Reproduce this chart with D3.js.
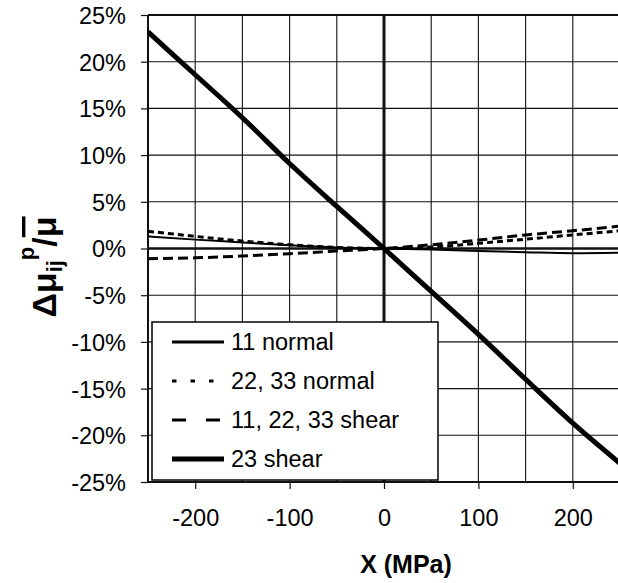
<!DOCTYPE html>
<html>
<head>
<meta charset="utf-8">
<script src="https://cdn.jsdelivr.net/npm/d3@7/dist/d3.min.js"></script>
<style>
  body { margin: 0; background: #fff; }
  text { font-family: "Liberation Sans", Arial, sans-serif; fill: #000; }
</style>
</head>
<body>
<div id="chart"></div>
<script>
// stress values (MPa)
const stress = [-250, -200, -150, -100, -50, 0, 50, 100, 150, 200, 250];

// change in plastic shear modulus, percent
const normal11   = [1.3, 0.95, 0.65, 0.35, 0.12, 0, -0.12, -0.28, -0.4, -0.5, -0.45];
const normal2233 = [1.85, 1.3, 0.8, 0.4, 0.12, 0, 0.15, 0.55, 1.0, 1.45, 1.9];
const shear112233 = [-1.1, -1.0, -0.8, -0.55, -0.28, 0, 0.4, 0.9, 1.45, 1.9, 2.4];
const shear23    = [23.2, 18.6, 14.0, 9.1, 4.5, 0, -4.6, -9.2, -14.0, -18.7, -23.0];

const seriesNames = ["11 normal", "22, 33 normal", "11, 22, 33 shear", "23 shear"];
const seriesValues = [normal11, normal2233, shear112233, shear23];

const xTicks = [-200, -100, 0, 100, 200];
const xGrid = [-250, -200, -150, -100, -50, 0, 50, 100, 150, 200, 250];
const yTicks = [-25, -20, -15, -10, -5, 0, 5, 10, 15, 20, 25];

// line styles per series
const lineWidth = [2, 3, 3, 5];
const plotDash = [null, "6,4", "10,5", null];
const legendDash = [null, "4.5,14", "14,20", null];

var width = 618, height = 583;
var plotLeft = 148, plotRight = 620, plotTop = 15, plotBottom = 482;

var svg = d3.select("#chart").append("svg")
    .attr("width", width)
    .attr("height", height);

svg.append("rect").attr("width", width).attr("height", height).attr("fill", "#fff");

var x = d3.scaleLinear().domain([-250, 250]).range([plotLeft, plotRight]);
var y = d3.scaleLinear().domain([-25, 25]).range([plotBottom, plotTop]);

svg.append("clipPath").attr("id", "plotClip")
  .append("rect")
    .attr("x", plotLeft).attr("y", plotTop)
    .attr("width", plotRight - plotLeft).attr("height", plotBottom - plotTop);

// gridlines
svg.append("g")
  .selectAll("line")
  .data(xGrid)
  .enter().append("line")
    .attr("x1", function(d){ return x(d) })
    .attr("x2", function(d){ return x(d) })
    .attr("y1", plotTop).attr("y2", plotBottom)
    .attr("stroke", "#111")
    .attr("stroke-width", function(d){ return d == 0 ? 3 : (d == -250 ? 2 : 1.1) });

svg.append("g")
  .selectAll("line")
  .data(yTicks)
  .enter().append("line")
    .attr("x1", plotLeft).attr("x2", plotRight)
    .attr("y1", function(d){ return y(d) })
    .attr("y2", function(d){ return y(d) })
    .attr("stroke", "#111")
    .attr("stroke-width", function(d){ return d == 0 ? 2.5 : (d == 25 || d == -25 ? 1.8 : 1.1) });

// y axis ticks + labels
var yAxis = svg.append("g")
    .attr("transform", "translate(" + plotLeft + ",0)")
    .call(d3.axisLeft(y).tickValues(yTicks).tickSize(7).tickPadding(15)
      .tickFormat(function(d){ return (d < 0 ? "-" + (-d) : d) + "%" }));
yAxis.select(".domain").remove();
yAxis.selectAll("line").attr("stroke", "#111").attr("stroke-width", 1.2);
yAxis.selectAll("text")
    .style("font-family", "'Liberation Sans', Arial, sans-serif")
    .style("font-size", "23.5px")
    .attr("dy", "0.36em");

// x axis ticks + labels
var xAxis = svg.append("g")
    .attr("transform", "translate(0," + plotBottom + ")")
    .call(d3.axisBottom(x).tickValues(xTicks).tickSize(7).tickPadding(20)
      .tickFormat(function(d){ return d < 0 ? "-" + (-d) : "" + d }));
xAxis.select(".domain").remove();
xAxis.selectAll("line").attr("stroke", "#111").attr("stroke-width", 1.2);
xAxis.selectAll("text")
    .style("font-family", "'Liberation Sans', Arial, sans-serif")
    .style("font-size", "23.5px");

// series
var line = d3.line()
    .x(function(d){ return x(d[0]) })
    .y(function(d){ return y(d[1]) })
    .curve(d3.curveMonotoneX);

var plot = svg.append("g").attr("clip-path", "url(#plotClip)");
seriesValues.forEach(function(vals, i){
  plot.append("path")
    .datum(stress.map(function(s, j){ return [s, vals[j]] }))
    .attr("d", line)
    .attr("fill", "none")
    .attr("stroke", "#000")
    .attr("stroke-width", lineWidth[i])
    .attr("stroke-dasharray", plotDash[i]);
});

// legend
var legend = svg.append("g");
legend.append("rect")
    .attr("x", 152).attr("y", 322)
    .attr("width", 286).attr("height", 158)
    .attr("fill", "#fff")
    .attr("stroke", "#000")
    .attr("stroke-width", 1.5);

seriesNames.forEach(function(name, i){
  var base = 350 + i * 39;
  legend.append("line")
    .attr("x1", 172).attr("x2", 224)
    .attr("y1", base - 8).attr("y2", base - 8)
    .attr("stroke", "#000")
    .attr("stroke-width", i == 3 ? 5 : 3)
    .attr("stroke-dasharray", legendDash[i]);
  legend.append("text")
    .attr("x", 231).attr("y", base)
    .style("font-size", "23.5px")
    .text(name);
});

// axis titles
svg.append("text")
    .attr("x", 406).attr("y", 573)
    .attr("text-anchor", "middle")
    .style("font-size", "25px")
    .style("font-weight", "bold")
    .text("X (MPa)");

var yTitle = svg.append("text")
    .attr("transform", "translate(56,267) rotate(-90)")
    .attr("text-anchor", "middle")
    .style("font-weight", "bold")
    .style("font-size", "34px");
yTitle.append("tspan").text("\u0394\u03bc");
yTitle.append("tspan").attr("dy", 6).style("font-size", "22px").text("ij");
yTitle.append("tspan").attr("dy", -28).style("font-size", "22px").text("p");
yTitle.append("tspan").attr("dy", 22).text("/");
yTitle.append("tspan").style("text-decoration", "overline").text("\u03bc");
</script>
</body>
</html>
